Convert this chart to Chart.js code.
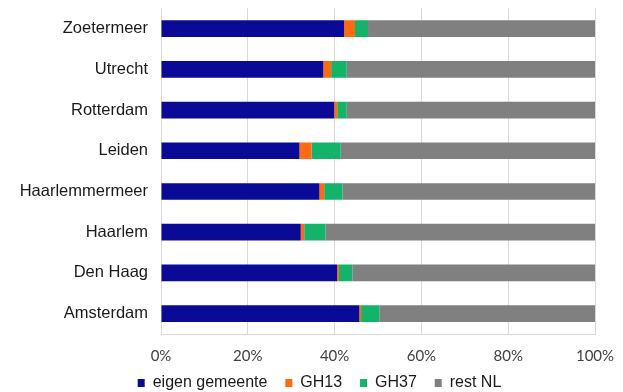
<!DOCTYPE html>
<html>
<head>
<meta charset="utf-8">
<script src="https://cdn.jsdelivr.net/npm/chart.js@4/dist/chart.umd.min.js"></script>
<style>
  html, body { margin: 0; padding: 0; background: #fff; }
  #wrap { width: 623px; height: 392px; }
</style>
</head>
<body>
<div id="wrap"><canvas id="c"></canvas></div>
<script>
// gemeenten (boven naar beneden)
const cities = ['Zoetermeer', 'Utrecht', 'Rotterdam', 'Leiden', 'Haarlemmermeer', 'Haarlem', 'Den Haag', 'Amsterdam'];
// aandelen in procenten
const eigenGemeente = [42.2, 37.4, 39.9, 31.9, 36.5, 32.2, 40.6, 45.7];
const gh13 = [2.5, 1.8, 0.7, 2.8, 1.1, 0.8, 0.4, 0.4];
const gh37 = [3.0, 3.6, 2.2, 6.7, 4.2, 4.9, 3.1, 4.2];
const restNL = [52.3, 57.2, 57.2, 58.6, 58.2, 62.1, 55.9, 49.7];
const xTicks = [0, 20, 40, 60, 80, 100];

const mkSet = (label, data, color) => ({
    label, data, backgroundColor: color, borderWidth: 0,
    barPercentage: 0.41, categoryPercentage: 1.0
});

// legenda iets naar rechts, zoals in het origineel
const legendShift = {
    id: 'legendShift',
    afterLayout(chart) {
        if (!chart.legend) return;
        chart.legend.left += 22;
        chart.legend.right += 22;
    }
};

new Chart(document.getElementById('c'), {
    type: 'bar',
    data: {
        labels: cities,
        datasets: [
            mkSet('eigen gemeente', eigenGemeente, '#0a0a96'),
            mkSet('GH13', gh13, '#ff6a10'),
            mkSet('GH37', gh37, '#14b36a'),
            mkSet('rest NL', restNL, '#808080')
        ]
    },
    plugins: [legendShift],
    options: {
        indexAxis: 'y',
        responsive: true, maintainAspectRatio: false,
        animation: false,
        layout: { padding: { top: 8, right: 28, bottom: -9, left: 0 } },
        scales: {
            x: {
                stacked: true, min: 0, max: 100,
                afterBuildTicks: s => { s.ticks = xTicks.map(v => ({ value: v })); },
                afterFit: s => { s.height = 32; },
                grid: { color: '#d9d9d9', drawTicks: true, tickLength: 10, tickColor: 'rgba(0,0,0,0)' },
                border: { color: '#d9d9d9' },
                ticks: {
                    padding: 3, color: '#404040',
                    font: { family: 'Lato', size: 15 },
                    callback: v => v + '%'
                }
            },
            y: {
                stacked: true,
                afterFit: s => { s.width = 161; },
                grid: { drawOnChartArea: false, drawTicks: true, tickLength: 13, tickColor: 'rgba(0,0,0,0)' },
                border: { color: '#d9d9d9' },
                ticks: {
                    padding: 0, color: '#1a1a1a',
                    font: { family: 'Liberation Sans', size: 16.5, lineHeight: 1 }
                }
            }
        },
        plugins: {
            legend: {
                position: 'bottom',
                labels: {
                    boxWidth: 7, boxHeight: 8, padding: 9,
                    color: '#1a1a1a',
                    font: { family: 'Liberation Sans', size: 16 },
                    // wat extra ruimte tussen de items
                    generateLabels: chart => Chart.defaults.plugins.legend.labels.generateLabels(chart)
                        .map((l, i, a) => { if (i < a.length - 1) l.text += '  '; return l; })
                }
            },
            tooltip: { enabled: false }
        }
    }
});
</script>
</body>
</html>
